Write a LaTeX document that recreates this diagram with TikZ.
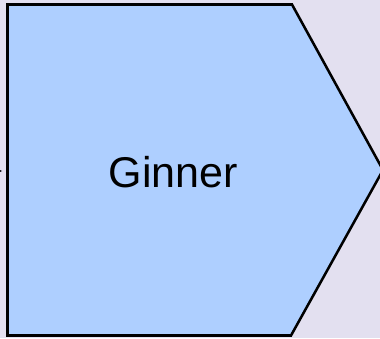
\documentclass[tikz,border=0pt]{standalone}
\usepackage{fontspec}
\setmainfont{Liberation Sans}
\usetikzlibrary{arrows.meta}
\definecolor{bgback}{RGB}{227,224,240}
\definecolor{stepfill}{RGB}{174,207,255}
\begin{document}
\begin{tikzpicture}[x=0.025cm, y=-0.025cm, >={Latex[length=3.6pt, width=3.6pt]}]
    \fill[bgback] (0,0) rectangle (380,338);
    \useasboundingbox (0,0) rectangle (380,338);
    \begin{scope}
    \clip (0,0) rectangle (380,338);

    \coordinate (gtl) at (7.5,4.5);
    \coordinate (gtr) at (292,4.5);
    \coordinate (gtip) at (383,170);
    \coordinate (gbr) at (291,335.5);
    \coordinate (gbl) at (7.5,335.5);
    \coordinate (gwest) at (7.5,171);
    \coordinate (src) at (-30,171);

    \filldraw[fill=stepfill, draw=black, line width=1.8pt, line join=miter]
        (gtl) -- (gtr) -- (gtip) -- (gbr) -- (gbl) -- cycle;

    \node[anchor=base, inner sep=0pt, font=\fontsize{30.6}{36}\selectfont]
        (ginner) at (173.5,187) {Ginner};

    \draw[->, thick, shorten >=3.6pt] (src) -- (gwest);
    \end{scope}
\end{tikzpicture}
\end{document}
